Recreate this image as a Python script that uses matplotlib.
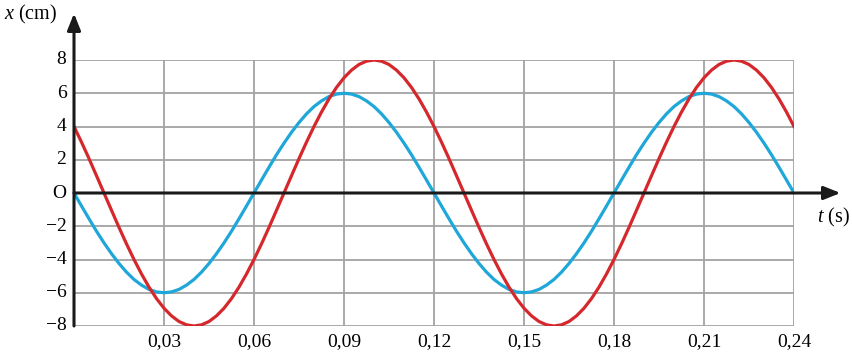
import numpy as np
import matplotlib.pyplot as plt

plt.rcParams['font.family'] = ['Liberation Serif', 'DejaVu Serif']
plt.rcParams['mathtext.fontset'] = 'custom'
plt.rcParams['mathtext.it'] = 'Liberation Serif:italic'
plt.rcParams['mathtext.rm'] = 'Liberation Serif'

# thoi diem doc gia tri (s), buoc 0,0025 s tu 0 den 0,24
t = np.linspace(0, 0.24, 97)

# duong xanh (bien do 6 cm, chu ky 0,12 s)
x_blue = [0, -0.78, -1.55, -2.30, -3.0, -3.65, -4.24, -4.76, -5.2, -5.54, -5.8, -5.95,
          -6, -5.95, -5.8, -5.54, -5.2, -4.76, -4.24, -3.65, -3.0, -2.30, -1.55, -0.78,
          0, 0.78, 1.55, 2.30, 3.0, 3.65, 4.24, 4.76, 5.2, 5.54, 5.8, 5.95,
          6, 5.95, 5.8, 5.54, 5.2, 4.76, 4.24, 3.65, 3.0, 2.30, 1.55, 0.78,
          0, -0.78, -1.55, -2.30, -3.0, -3.65, -4.24, -4.76, -5.2, -5.54, -5.8, -5.95,
          -6, -5.95, -5.8, -5.54, -5.2, -4.76, -4.24, -3.65, -3.0, -2.30, -1.55, -0.78,
          0, 0.78, 1.55, 2.30, 3.0, 3.65, 4.24, 4.76, 5.2, 5.54, 5.8, 5.95,
          6, 5.95, 5.8, 5.54, 5.2, 4.76, 4.24, 3.65, 3.0, 2.30, 1.55, 0.78,
          0]

# duong do (bien do 8 cm, bat dau tu 4 cm)
x_red = [4.0, 3.06, 2.07, 1.04, 0, -1.04, -2.07, -3.06, -4.0, -4.87, -5.66, -6.35,
         -6.93, -7.39, -7.73, -7.93, -8, -7.93, -7.73, -7.39, -6.93, -6.35, -5.66, -4.87,
         -4.0, -3.06, -2.07, -1.04, 0, 1.04, 2.07, 3.06, 4.0, 4.87, 5.66, 6.35,
         6.93, 7.39, 7.73, 7.93, 8, 7.93, 7.73, 7.39, 6.93, 6.35, 5.66, 4.87,
         4.0, 3.06, 2.07, 1.04, 0, -1.04, -2.07, -3.06, -4.0, -4.87, -5.66, -6.35,
         -6.93, -7.39, -7.73, -7.93, -8, -7.93, -7.73, -7.39, -6.93, -6.35, -5.66, -4.87,
         -4.0, -3.06, -2.07, -1.04, 0, 1.04, 2.07, 3.06, 4.0, 4.87, 5.66, 6.35,
         6.93, 7.39, 7.73, 7.93, 8, 7.93, 7.73, 7.39, 6.93, 6.35, 5.66, 4.87,
         4.0]

xticks = [0.03, 0.06, 0.09, 0.12, 0.15, 0.18, 0.21, 0.24]
xtick_labels = ['0,03', '0,06', '0,09', '0,12', '0,15', '0,18', '0,21', '0,24']
yticks = [8, 6, 4, 2, 0, -2, -4, -6, -8]
ytick_labels = ['8', '6', '4', '2', 'O', '\u22122', '\u22124', '\u22126', '\u22128']

fig = plt.figure(figsize=(8.53, 3.57), dpi=100)
ax = fig.add_axes([74 / 853, 31 / 357, 720 / 853, 266 / 357])
ax.set_xlim(0, 0.24)
ax.set_ylim(-8, 8)
ax.axis('off')

grid_col = '#a3a3a3'
for xv in xticks:
    ax.plot([xv, xv], [-8, 8], color=grid_col, lw=1.3, zorder=1)
for yv in yticks:
    if yv != 0:
        ax.plot([0, 0.24], [yv, yv], color=grid_col, lw=1.3, zorder=1)

ax.plot(t, x_blue, color='#1ea7d8', lw=2.3, zorder=3, solid_joinstyle='round')
ax.plot(t, x_red, color='#d5282d', lw=2.3, zorder=4, solid_joinstyle='round')

# truc toa do co mui ten
ax.annotate('', xy=(0.2555, 0), xytext=(0, 0),
            arrowprops=dict(arrowstyle='-|>,head_length=1.0,head_width=0.4',
                            color='#1a1a1a', lw=2.2, shrinkA=0, shrinkB=0),
            annotation_clip=False, zorder=5)
ax.annotate('', xy=(0, 10.8), xytext=(0, -8),
            arrowprops=dict(arrowstyle='-|>,head_length=1.0,head_width=0.4',
                            color='#1a1a1a', lw=2.2, shrinkA=0, shrinkB=0),
            annotation_clip=False, zorder=5)

for xv, lab in zip(xticks, xtick_labels):
    ax.text(xv, -8.45, lab, ha='center', va='top', fontsize=14)
for yv, lab in zip(yticks, ytick_labels):
    ax.text(-0.0025, yv, lab, ha='right', va='center', fontsize=14)

ax.text(-0.0235, 10.75, r'$x$ (cm)', ha='left', va='center', fontsize=14.5)
ax.text(0.2585, -1.5, r'$t$ (s)', ha='right', va='center', fontsize=14.5)

fig.savefig('out.png', dpi=100)
